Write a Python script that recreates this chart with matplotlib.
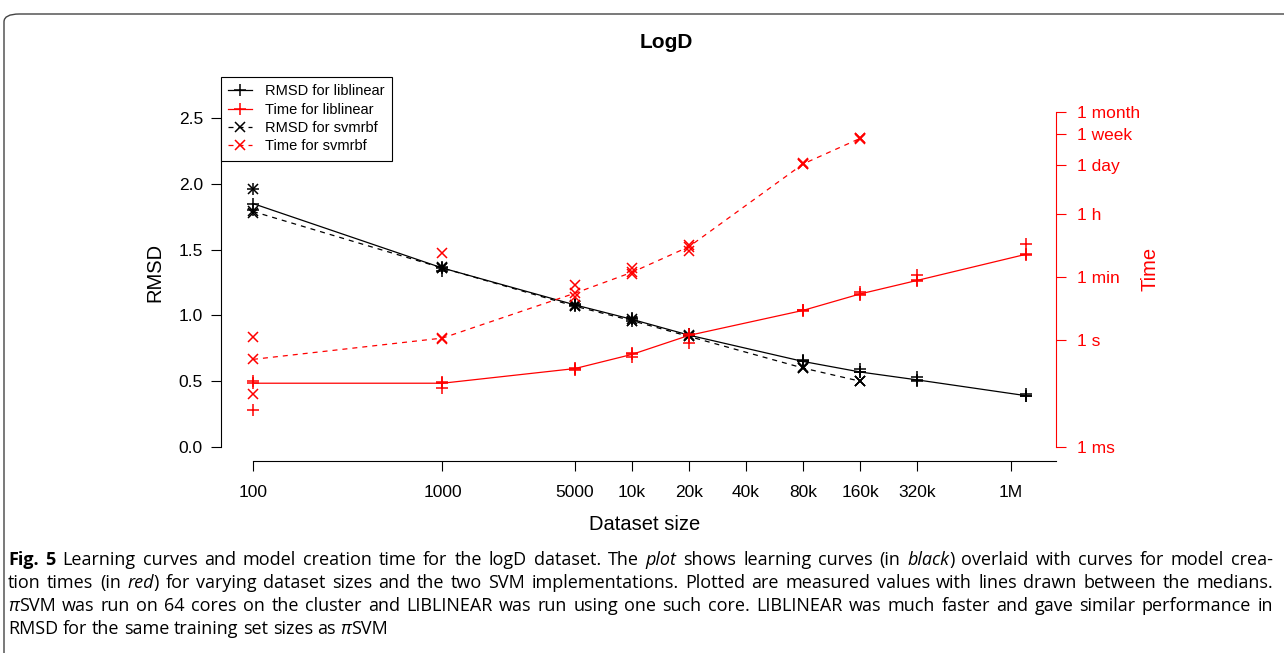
import numpy as np
import matplotlib.pyplot as plt
from matplotlib.lines import Line2D
from matplotlib.patches import FancyBboxPatch

plt.rcParams['font.family'] = ['Liberation Sans', 'DejaVu Sans']

W, H = 1284, 653


def fx(x):
    return x / W


def fy(y):
    return 1 - y / H


# dataset sizes
sizes_lin = [100, 1000, 5000, 10000, 20000, 80000, 160000, 320000, 1200000]
sizes_svm = [100, 1000, 5000, 10000, 20000, 80000, 160000]

rmsd_lin = [[1.96, 1.85, 1.80], [1.37, 1.36, 1.34], [1.09, 1.08, 1.07],
            [0.98, 0.97, 0.96], [0.86, 0.85, 0.84], [0.66, 0.65, 0.65],
            [0.59, 0.57, 0.57], [0.53, 0.51, 0.50], [0.40, 0.39, 0.39]]
rmsd_svm = [[1.96, 1.79, 1.78], [1.37, 1.36, 1.36], [1.08, 1.07, 1.07],
            [0.97, 0.96, 0.96], [0.85, 0.84, 0.84], [0.61, 0.60, 0.60],
            [0.50, 0.50, 0.50]]
# times in seconds
time_lin = [[0.07, 0.062, 0.011], [0.065, 0.062, 0.045], [0.17, 0.16, 0.15],
            [0.45, 0.40, 0.33], [1.5, 1.37, 0.82], [7.2, 6.9, 6.5],
            [22, 20, 19], [70, 48, 45], [490, 260, 250]]
time_svm = [[1.2, 0.29, 0.031], [290, 1.15, 1.1], [35, 21, 16],
            [110, 81, 74], [480, 425, 330], [95000, 90000, 88000],
            [480000, 470000, 460000]]

x_ticks = [100, 1000, 5000, 10000, 20000, 40000, 80000, 160000, 320000, 1000000]
x_labels = ['100', '1000', '5000', '10k', '20k', '40k', '80k', '160k', '320k', '1M']
t_ticks = [1e-3, 1, 60, 3600, 86400, 604800, 2592000]
t_labels = ['1 ms', '1 s', '1 min', '1 h', '1 day', '1 week', '1 month']

# caption: *..* bold, _.._ italic
caption = [
    "*Fig. 5*  Learning curves and model creation time for the logD dataset. The _plot_ shows learning curves (in _black_) overlaid with curves for model crea-",
    "tion times (in _red_) for varying dataset sizes and the two SVM implementations. Plotted are measured values with lines drawn between the medians.",
    "_\u03c0_SVM was run on 64 cores on the cluster and LIBLINEAR was run using one such core. LIBLINEAR was much faster and gave similar performance in",
    "RMSD for the same training set sizes as _\u03c0_SVM",
]

RED = '#ff0000'

fig = plt.figure(figsize=(12.84, 6.53), dpi=100)
ax = fig.add_axes([fx(221), fy(461), fx(1056) - fx(221), fy(100) - fy(461)])
ax2 = ax.twinx()

# black: RMSD
for sizes, vals, ls in [(sizes_lin, rmsd_lin, '-'), (sizes_svm, rmsd_svm, '--')]:
    med = [np.median(v) for v in vals]
    kw = dict(dashes=(4, 4)) if ls == '--' else {}
    ax.plot(sizes, med, color='black', lw=0.9, linestyle=ls, **kw)
for sizes, vals, mk in [(sizes_lin, rmsd_lin, '+'), (sizes_svm, rmsd_svm, 'x')]:
    for s, v in zip(sizes, vals):
        ax.plot([s] * len(v), v, linestyle='none', marker=mk, color='black',
                ms=9 if mk == '+' else 7, mew=1.1)

# red: time
for sizes, vals, ls in [(sizes_lin, time_lin, '-'), (sizes_svm, time_svm, '--')]:
    med = [np.median(v) for v in vals]
    kw = dict(dashes=(4, 4)) if ls == '--' else {}
    ax2.plot(sizes, med, color=RED, lw=0.9, linestyle=ls, **kw)
for sizes, vals, mk in [(sizes_lin, time_lin, '+'), (sizes_svm, time_svm, 'x')]:
    for s, v in zip(sizes, vals):
        ax2.plot([s] * len(v), v, linestyle='none', marker=mk, color=RED,
                 ms=9 if mk == '+' else 7, mew=1.1)

ax.set_xscale('log')
ax.set_xlim(67.8, 1.728e6)
ax.set_ylim(-0.1064, 2.637)
ax2.set_yscale('log')
ax2.set_ylim(10 ** -3.393, 10 ** 6.750)

ax.set_xticks(x_ticks)
ax.set_xticklabels(x_labels)
ax.xaxis.set_minor_locator(plt.NullLocator())
ax.set_yticks([0, 0.5, 1.0, 1.5, 2.0, 2.5])
ax.set_yticklabels(['%.1f' % v for v in [0, 0.5, 1.0, 1.5, 2.0, 2.5]])
ax2.set_yticks(t_ticks)
ax2.set_yticklabels(t_labels)
ax2.yaxis.set_minor_locator(plt.NullLocator())

ax.tick_params(axis='x', length=7, width=0.8, pad=10, labelsize=12.5)
ax.tick_params(axis='y', length=7, width=0.8, pad=6, labelsize=12.5)
ax2.tick_params(axis='y', length=7, width=0.8, pad=8, labelsize=12.5,
                colors=RED)

for s in ['top', 'right']:
    ax.spines[s].set_visible(False)
for s in ['top', 'left', 'bottom']:
    ax2.spines[s].set_visible(False)
ax.spines['left'].set_bounds(0, 2.5)
ax.spines['bottom'].set_bounds(100, 1.728e6)
ax2.spines['right'].set_bounds(1e-3, 2592000)
ax2.spines['right'].set_color(RED)
for sp in [ax.spines['left'], ax.spines['bottom'], ax2.spines['right']]:
    sp.set_linewidth(0.8)

fig.text(fx(666), fy(42), 'LogD', fontsize=15, fontweight='bold',
         ha='center', va='center')
fig.text(fx(645), fy(524), 'Dataset size', fontsize=14.5,
         ha='center', va='center')
fig.text(fx(155), fy(272), 'RMSD', fontsize=14.5, rotation=90,
         ha='center', va='center')
fig.text(fx(1150), fy(269), 'Time', fontsize=14.5, rotation=90,
         ha='center', va='center', color=RED)

handles = [
    Line2D([], [], color='black', lw=0.9, marker='+', ms=9, mew=1.1),
    Line2D([], [], color=RED, lw=0.9, marker='+', ms=9, mew=1.1),
    Line2D([], [], color='black', lw=0.9, ls='--', dashes=(4, 4), marker='x', ms=7, mew=1.1),
    Line2D([], [], color=RED, lw=0.9, ls='--', dashes=(4, 4), marker='x', ms=7, mew=1.1),
]
labels = ['RMSD for liblinear', 'Time for liblinear', 'RMSD for svmrbf', 'Time for svmrbf']
leg = fig.legend(handles, labels, loc='upper left',
                 bbox_to_anchor=(fx(221), fy(77)), bbox_transform=fig.transFigure,
                 borderaxespad=0, fontsize=10.5, fancybox=False, framealpha=1,
                 edgecolor='black', handlelength=1.6, handletextpad=0.9,
                 labelspacing=0.3, borderpad=0.5)
leg.get_frame().set_linewidth(0.8)

# figure border
fig.patches.append(FancyBboxPatch((fx(4), fy(700)), fx(1320), fy(14) - fy(700),
                                  boxstyle='round,pad=0,rounding_size=0.012',
                                  transform=fig.transFigure, fill=False,
                                  edgecolor='#444444', linewidth=1.0,
                                  clip_on=False))


# caption, justified like the journal layout
def parse(line):
    words, italic, bold = [], False, False
    for w in line.split():
        pieces, buf = [], ''
        for ch in w:
            if ch in '_*':
                if buf:
                    pieces.append((buf, italic, bold))
                    buf = ''
                if ch == '_':
                    italic = not italic
                else:
                    bold = not bold
            else:
                buf += ch
        if buf:
            pieces.append((buf, italic, bold))
        words.append(pieces)
    return words


cap_font = ['Open Sans', 'DejaVu Sans']
cap_size = 13
x_left, x_right = 8, 1273
baselines = [565, 588, 611, 634]
renderer = fig.canvas.get_renderer()


def cap_text(s, italic, bold, y):
    return fig.text(0, fy(y), s, fontsize=cap_size, family=cap_font,
                    style='italic' if italic else 'normal',
                    fontweight='bold' if bold else 'normal',
                    ha='left', va='baseline')


def width(t):
    return t.get_window_extent(renderer).width


probe1 = cap_text('a a', False, False, 0)
probe2 = cap_text('aa', False, False, 0)
space = width(probe1) - width(probe2)
probe1.remove()
probe2.remove()

for i, (line, y) in enumerate(zip(caption, baselines)):
    words = parse(line)
    placed = []
    total = 0
    for pieces in words:
        arts = []
        for s, it, bd in pieces:
            t = cap_text(s, it, bd, y)
            arts.append((t, width(t)))
        wsum = sum(w for _, w in arts)
        placed.append((arts, wsum))
        total += wsum
    if i < len(caption) - 1:
        gap = (x_right - x_left - total) / (len(words) - 1)
    else:
        gap = space
    x = x_left
    for arts, wsum in placed:
        for t, w in arts:
            t.set_x(fx(x))
            x += w
        x += gap

fig.savefig('out.png', dpi=100)
